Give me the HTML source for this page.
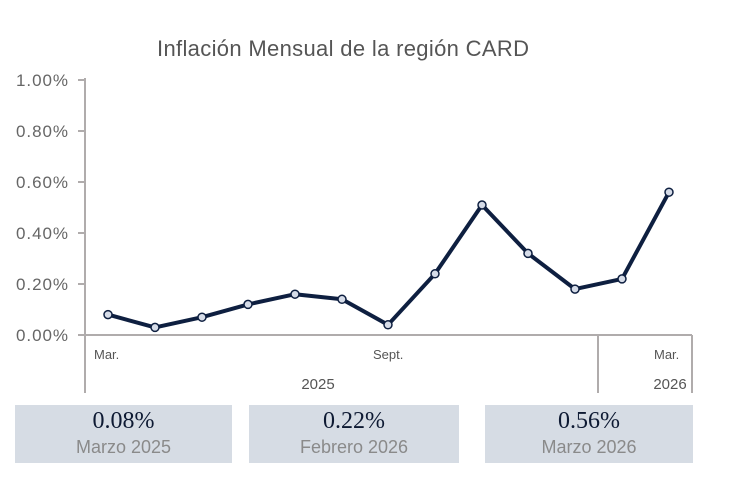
<!DOCTYPE html>
<html><head><style>
body{margin:0;background:#fff;width:729px;height:480px;overflow:hidden;font-family:"Liberation Sans",sans-serif}
.box{position:absolute;top:405px;height:58px;background:#d6dce4;text-align:center}
.v{font-family:"Liberation Serif",serif;font-size:24px;color:#0e1a33;margin-top:3px;line-height:27px}
.l{font-size:18px;color:#8a8a8a;line-height:24px}
</style></head><body>
<svg width="729" height="400" style="position:absolute;left:0;top:0" font-family="Liberation Sans, sans-serif">
<text x="343" y="56" text-anchor="middle" font-size="22" fill="#555" textLength="372">Inflación Mensual de la región CARD</text>
<g font-size="17" fill="#666" text-anchor="end">
<text x="68" y="86" textLength="52">1.00%</text><text x="68" y="137" textLength="52">0.80%</text><text x="68" y="188" textLength="52">0.60%</text>
<text x="68" y="239" textLength="52">0.40%</text><text x="68" y="290" textLength="52">0.20%</text><text x="68" y="341" textLength="52">0.00%</text></g>
<g stroke="#b0acac" stroke-width="2" fill="none">
<line x1="85" y1="78" x2="85" y2="393"/><line x1="78" y1="335" x2="692" y2="335"/>
<line x1="598" y1="335" x2="598" y2="393"/><line x1="692" y1="335" x2="692" y2="393"/>
<line x1="78" y1="80" x2="85" y2="80"/><line x1="78" y1="131" x2="85" y2="131"/><line x1="78" y1="182" x2="85" y2="182"/><line x1="78" y1="233" x2="85" y2="233"/><line x1="78" y1="284" x2="85" y2="284"/></g>
<g font-size="13" fill="#555">
<text x="94" y="359">Mar.</text><text x="373" y="359">Sept.</text><text x="654" y="359">Mar.</text>
<text x="318" y="389" text-anchor="middle" font-size="15">2025</text><text x="670" y="389" text-anchor="middle" font-size="15">2026</text></g>
<polyline fill="none" stroke="#0e1f40" stroke-width="4" stroke-linejoin="round" points="108,314.6 155,327.4 202,317.2 248,304.4 295,294.2 342,299.3 388,324.8 435,273.8 482,205 528,253.4 575,289.1 622,278.9 669,192.2"/>
<g fill="#d6dce8" stroke="#0e1f40" stroke-width="1.5">
<circle cx="108" cy="314.6" r="4"/><circle cx="155" cy="327.4" r="4"/><circle cx="202" cy="317.2" r="4"/><circle cx="248" cy="304.4" r="4"/><circle cx="295" cy="294.2" r="4"/><circle cx="342" cy="299.3" r="4"/><circle cx="388" cy="324.8" r="4"/><circle cx="435" cy="273.8" r="4"/><circle cx="482" cy="205" r="4"/><circle cx="528" cy="253.4" r="4"/><circle cx="575" cy="289.1" r="4"/><circle cx="622" cy="278.9" r="4"/><circle cx="669" cy="192.2" r="4"/></g>
</svg>
<div class="box" style="left:15px;width:217px"><div class="v">0.08%</div><div class="l">Marzo 2025</div></div>
<div class="box" style="left:249px;width:210px"><div class="v">0.22%</div><div class="l">Febrero 2026</div></div>
<div class="box" style="left:485px;width:208px"><div class="v">0.56%</div><div class="l">Marzo 2026</div></div>
</body></html>
